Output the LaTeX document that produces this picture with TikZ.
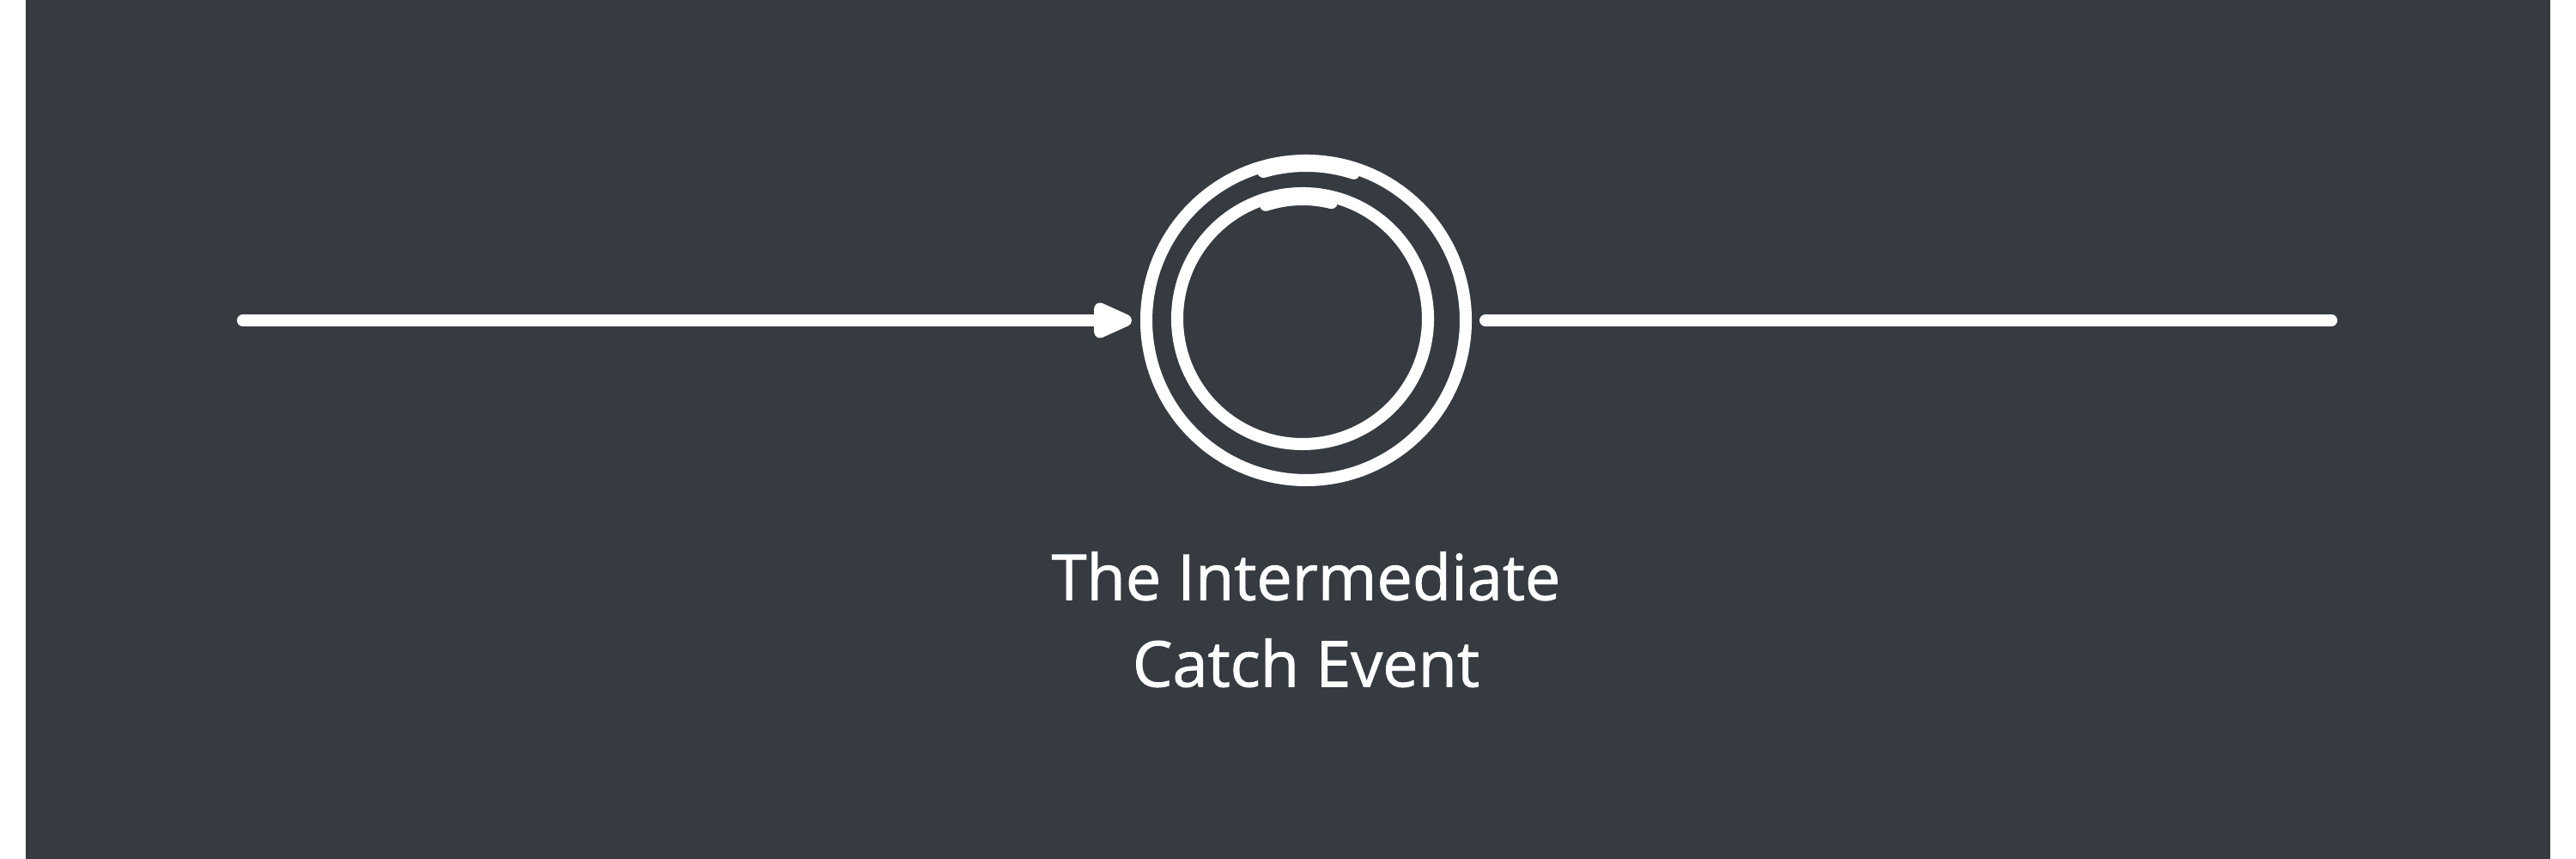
\documentclass[tikz,border=0pt]{standalone}
\usepackage{fontspec}
\newfontfamily\capfont{Open Sans}[FakeBold=1.2]
\usetikzlibrary{positioning,arrows.meta}
\definecolor{slate}{RGB}{54,58,65}

\begin{document}
\begin{tikzpicture}[
		sketch/.style={draw=white, line width=4pt, line cap=round},
		event/.style={sketch, circle, inner sep=0pt},
		flow/.style={sketch, -{Triangle[length=0.56cm, width=0.44cm, round]}},
	]
	\fill[white] (0,0) rectangle (30,10);
	\fill[slate] (0.3,0) rectangle (29.7,10);
	% the catch event: two rings
	\node (ice) [event, minimum size=3.72cm] at (15.21,6.27) {};
	\node (ring) [event, minimum size=2.92cm] at (15.17,6.29) {};
	\draw[sketch] ([shift={(106:1.80cm)}]ice.center) arc[start angle=106, end angle=72, radius=1.80cm];
	\draw[sketch] ([shift={(108:1.39cm)}]ring.center) arc[start angle=108, end angle=76, radius=1.39cm];
	\coordinate (in) at (2.83,6.27);
	\coordinate (out) at (27.15,6.27);
	\draw[flow, shorten >=0.1cm] (in) -- (ice);
	\draw[sketch, shorten <=0.16cm] (ice) -- (out);
	\node (caption) [below=0.64cm of ice, align=center, text=white, font=\capfont\fontsize{21}{28.7}\selectfont] {The Intermediate\\Catch Event};
\end{tikzpicture}
\end{document}
